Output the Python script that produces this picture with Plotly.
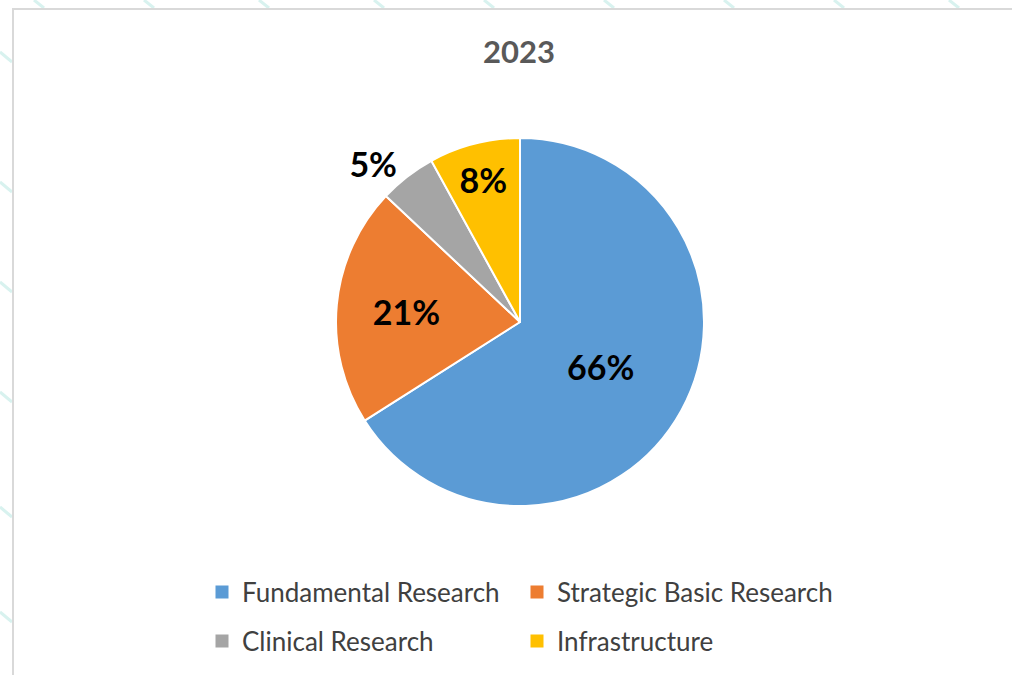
import plotly.graph_objects as go

title_text = "2023"
categories = ["Fundamental Research", "Strategic Basic Research", "Clinical Research", "Infrastructure"]
shares = [66, 21, 5, 8]
colors = ["#5B9BD5", "#ED7D31", "#A5A5A5", "#FFC000"]
label_positions = ["inside", "inside", "outside", "inside"]
legend_rows = ["legend", "legend", "legend2", "legend2"]

W, H = 1012, 675
FONT = "Lato, 'Open Sans', sans-serif"

cx, cy, r = 520, 322, 184


def px(x):
    return x / W


def py(y):
    return 1 - y / H


lbl_font = dict(family=FONT, size=34, color="black", weight="bold")

fig = go.Figure()
fig.add_trace(go.Pie(
    labels=categories,
    values=shares,
    marker=dict(colors=colors, line=dict(color="white", width=2)),
    sort=False,
    direction="clockwise",
    rotation=0,
    textinfo="percent",
    textposition=label_positions,
    insidetextorientation="horizontal",
    textfont=lbl_font,
    outsidetextfont=lbl_font,
    insidetextfont=lbl_font,
    domain=dict(x=[px(cx - r), px(cx + r)], y=[py(cy + r), py(cy - r)]),
    hoverinfo="label+percent",
    showlegend=False,
))

# legend entries (two rows, two columns, as in the reference)
for cat, col, lg in zip(categories, colors, legend_rows):
    fig.add_trace(go.Scatter(
        x=[None], y=[None], mode="markers", name=cat,
        marker=dict(symbol="square", size=13, color=col),
        legend=lg, showlegend=True, hoverinfo="skip",
    ))

shapes = []
stripe = dict(color="#d8f2ef", width=3)
for x in [40, 150, 265, 380, 490, 610, 730, 840, 955]:
    shapes.append(dict(type="line", xref="paper", yref="paper", x0=px(x - 6), y0=py(0), x1=px(x + 4), y1=py(8),
                       line=stripe, layer="below"))
for y in [60, 190, 290, 400, 515, 620]:
    shapes.append(dict(type="line", xref="paper", yref="paper", x0=px(0), y0=py(y - 8), x1=px(12), y1=py(y + 2),
                       line=stripe, layer="below"))
shapes.append(dict(type="rect", xref="paper", yref="paper", x0=px(13), y0=py(9), x1=px(W + 10), y1=py(H + 10),
                   line=dict(color="#d9d9d9", width=2), fillcolor="white", layer="below"))

leg_common = dict(orientation="h", xanchor="center", x=px(517), yanchor="middle",
                  entrywidth=270, font=dict(family=FONT, size=26, color="#404040"),
                  bgcolor="rgba(0,0,0,0)", itemclick=False, itemdoubleclick=False)

fig.update_layout(
    width=W, height=H,
    margin=dict(l=0, r=0, t=0, b=0),
    paper_bgcolor="white",
    plot_bgcolor="rgba(0,0,0,0)",
    title=dict(text=title_text, x=px(519), xanchor="center", y=py(52), yanchor="middle",
               font=dict(family=FONT, size=31, color="#595959", weight="bold")),
    showlegend=True,
    legend=dict(y=py(592), **leg_common),
    legend2=dict(y=py(641), **leg_common),
    xaxis=dict(visible=False, range=[0, 1]),
    yaxis=dict(visible=False, range=[0, 1]),
    shapes=shapes,
)

fig.write_html("out.html", config={"displayModeBar": False},
               post_script="document.body.style.margin='0';document.body.style.overflow='hidden';")
